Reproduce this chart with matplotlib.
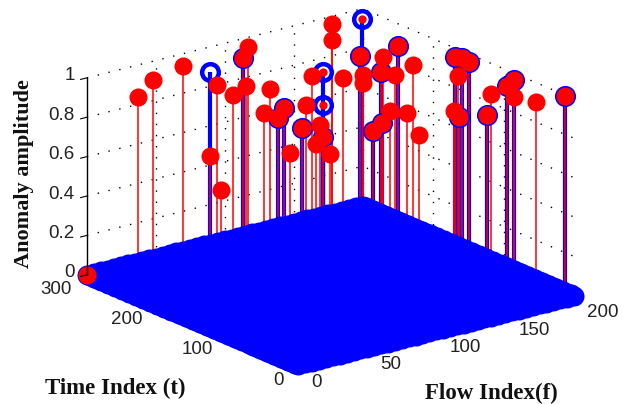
import numpy as np
import matplotlib
matplotlib.use('Agg')
import matplotlib.pyplot as plt
from mpl_toolkits.mplot3d import proj3d

# red stems (flow index, time index, amplitude), last one is the point on the floor
red_f = [26, 34, 61, 66, 111, 97, 74, 81, 93, 90, 100, 97, 113, 117, 140, 174, 157, 110, 123, 125, 120, 103, 130, 63, 68,
         153, 181, 162, 158, 154, 154, 161, 167, 160, 164, 158, 156, 166, 195, 197, 196, 176, 174, 175, 181, 182, 188, 197, 187, 192, 199, 0]
red_t = [278, 272, 283, 245, 289, 268, 238, 232, 222, 225, 216, 219, 210, 210, 210, 293, 259, 210, 210, 210, 210, 213, 210, 248, 243,
         211, 212, 196, 191, 210, 210, 177, 164, 183, 166, 190, 199, 154, 159, 153, 141, 118, 120, 114, 87, 82, 71, 80, 60, 38, 11, 300]
red_z = [0.89, 0.97, 0.98, 0.93, 0.98, 0.98, 0.88, 0.92, 0.9, 0.78, 0.8, 0.75, 0.8, 0.94, 0.89, 0.98, 0.98, 0.69, 0.68, 0.62, 0.59, 0.57, 0.52, 0.57, 0.4,
         0.98, 0.98, 0.98, 0.92, 0.88, 0.84, 0.92, 0.98, 0.73, 0.74, 0.66, 0.61, 0.64, 0.98, 0.98, 0.98, 0.98, 0.8, 0.78, 0.82, 0.93, 0.98, 0.98, 0.94, 0.94, 1.0, 0.0]

# blue stems with open rings
blue_f = [97, 100, 97, 110, 125, 153, 181, 158, 158, 156, 195, 197, 196, 175, 181, 188, 197, 199, 67, 125, 125, 193]
blue_t = [268, 216, 219, 210, 210, 211, 212, 191, 190, 199, 159, 153, 141, 114, 87, 71, 80, 11, 256, 210, 210, 287]
blue_z = [0.98, 0.8, 0.75, 0.69, 0.62, 0.98, 0.98, 0.92, 0.66, 0.61, 0.98, 0.98, 0.98, 0.78, 0.82, 0.98, 0.98, 1.0, 0.98, 0.95, 0.78, 0.98]

# small red dots inside three of the rings
dot_f = [125, 125, 193]
dot_t = [210, 210, 287]
dot_z = [0.95, 0.78, 0.98]

f_ticks = [0, 50, 100, 150, 200]
t_ticks = [0, 100, 200, 300]
z_ticks = [0, 0.2, 0.4, 0.6, 0.8, 1]
z_labels = ['0', '0.2', '0.4', '0.6', '0.8', '1']

RED = '#ff0000'
BLUE = '#0000ff'
plt.rcParams['font.family'] = ['Liberation Sans', 'DejaVu Sans']

fig = plt.figure(figsize=(6.3, 4.04), dpi=100)
ax = fig.add_axes([10 / 630, 9.7 / 404, 1, 1], projection='3d', computed_zorder=False)
ax.set_proj_type('ortho')
ax.view_init(elev=19.1, azim=232.5)
ax.set_box_aspect((1, 1, .6), zoom=1.2826)
ax.set_xlim(0, 200, view_margin=0)
ax.set_ylim(0, 300, view_margin=0)
ax.set_zlim(0, 1, view_margin=0)
ax.set_axis_off()

# dotted grid on the two back walls
grid = dict(color='k', lw=1, ls=(0, (1, 7)), zorder=1, clip_on=False)
for z in z_ticks[1:]:
    ax.plot([0, 200, 200], [300, 300, 0], [z, z, z], **grid)
for f in f_ticks[1:4]:
    ax.plot([f, f], [300, 300], [0, 1], **grid)
for t in t_ticks[1:3]:
    ax.plot([200, 200], [t, t], [0, 1], **grid)
ax.plot([200, 200], [300, 300], [0, 1], **grid)

# stems
for f, t, z in zip(blue_f, blue_t, blue_z):
    ax.plot([f, f], [t, t], [0, z], color=BLUE, lw=3, solid_capstyle='butt', zorder=2, clip_on=False)
for f, t, z in zip(red_f, red_t, red_z):
    ax.plot([f, f], [t, t], [0, z], color=RED, lw=1.1, solid_capstyle='butt', zorder=2.5, clip_on=False)

# the zero entries fill the floor with blue circles
ff, tt = np.meshgrid(np.arange(0, 201, 5), np.arange(0, 301, 5))
ax.plot(ff.ravel(), tt.ravel(), np.zeros(ff.size), 'o', color=BLUE, ms=14.4, mew=0, ls='none', zorder=3, clip_on=False)

ax.plot(blue_f, blue_t, blue_z, 'o', ls='none', mfc='none', mec=BLUE, ms=12, mew=3.2, zorder=4, clip_on=False)
ax.plot(red_f, red_t, red_z, 'o', ls='none', color=RED, ms=13, mew=0, zorder=5, clip_on=False)
ax.plot(dot_f, dot_t, dot_z, 'o', ls='none', color=RED, ms=6, mew=0, zorder=6, clip_on=False)

# z axis at the left corner
ax.plot([0, 0], [300, 300], [0, 1], color='k', lw=1, zorder=6, clip_on=False)
for z in z_ticks:
    ax.plot([0, -4.5], [300, 300], [z, z], color='k', lw=.8, zorder=6, clip_on=False)


def tick_text(s, f, t, z, dx, dy, ha):
    x, y, _ = proj3d.proj_transform(f, t, z, ax.get_proj())
    ax.annotate(s, (x, y), xytext=(dx, dy), textcoords='offset pixels', ha=ha, va='center',
                fontsize=13.5, color='#222222', annotation_clip=False)


for z, s in zip(z_ticks, z_labels):
    tick_text(s, 0, 300, z, -12, 2, 'right')
for t in t_ticks:
    tick_text(str(t), 0, t, 0, -15, -15, 'right')
for f in f_ticks:
    tick_text(str(f), f, 0, 0, 13, -17, 'left')

label = dict(family='Liberation Serif', weight='bold', color='#111111', ha='center', va='center')
fig.text(24 / 630, 1 - 174 / 404, 'Anomaly amplitude', rotation=90, fontsize=16, **label)
fig.text(115 / 630, 1 - 388 / 404, 'Time Index (t)', fontsize=16.5, **label)
fig.text(491 / 630, 1 - 393 / 404, 'Flow Index(f)', fontsize=16.5, **label)

fig.savefig('out.png', dpi=100)
